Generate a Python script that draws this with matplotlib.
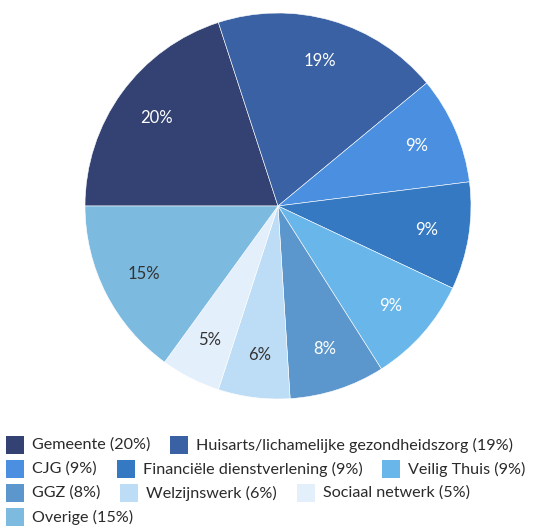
import matplotlib
matplotlib.use("Agg")
import matplotlib.pyplot as plt
from matplotlib.patches import Rectangle

plt.rcParams['font.family'] = ['Lato', 'DejaVu Sans']

categories = ["Gemeente", "Huisarts/lichamelijke gezondheidszorg", "CJG",
              "Financiële dienstverlening", "Veilig Thuis", "GGZ",
              "Welzijnswerk", "Sociaal netwerk", "Overige"]
values = [20, 19, 9, 9, 9, 8, 6, 5, 15]
colors = ["#334273", "#3a61a3", "#4a8fe0", "#3479c1", "#69b7ea",
          "#5b97cc", "#bddcf6", "#e3effb", "#7dbae0"]
label_colors = ["white", "white", "white", "white", "white",
                "white", "#333333", "#333333", "#333333"]

W, H = 547, 528
fig = plt.figure(figsize=(W / 100, H / 100), dpi=100)

# pie axes: center (278, 206), radius 193 px
cx, cy, r = 278, 206, 193
ax = fig.add_axes([(cx - r) / W, 1 - (cy + r) / H, 2 * r / W, 2 * r / H])
wedges, texts = ax.pie(values, colors=colors, startangle=180, counterclock=False,
                       labels=[f"{v}%" for v in values], labeldistance=0.78,
                       wedgeprops=dict(edgecolor="white", linewidth=0.4),
                       textprops=dict(fontsize=12))
for t, c in zip(texts, label_colors):
    t.set_color(c)
    t.set_ha("center")
    t.set_va("center")
ax.set_xlim(-1, 1)
ax.set_ylim(-1, 1)
ax.set_aspect("equal")

# legend with flow layout
lax = fig.add_axes([0, 0, 1, 1])
lax.set_xlim(0, W)
lax.set_ylim(H, 0)
lax.axis("off")
fig.canvas.draw()
renderer = fig.canvas.get_renderer()

x0, x, y = 6, 6, 445
max_x = 540
sq, gap, item_gap, row_h = 18, 8, 20, 24
for name, v, col in zip(categories, values, colors):
    label = f"{name} ({v}%)"
    t = lax.text(0, 0, label, fontsize=11.6, color="#2a2a2a", va="center", ha="left")
    w = t.get_window_extent(renderer).width
    if x + sq + gap + w > max_x and x > x0:
        x = x0
        y += row_h
    lax.add_patch(Rectangle((x, y - sq / 2), sq, sq, facecolor=col, edgecolor="none"))
    t.set_position((x + sq + gap, y))
    x += sq + gap + w + item_gap

fig.savefig("out.png", dpi=100)
